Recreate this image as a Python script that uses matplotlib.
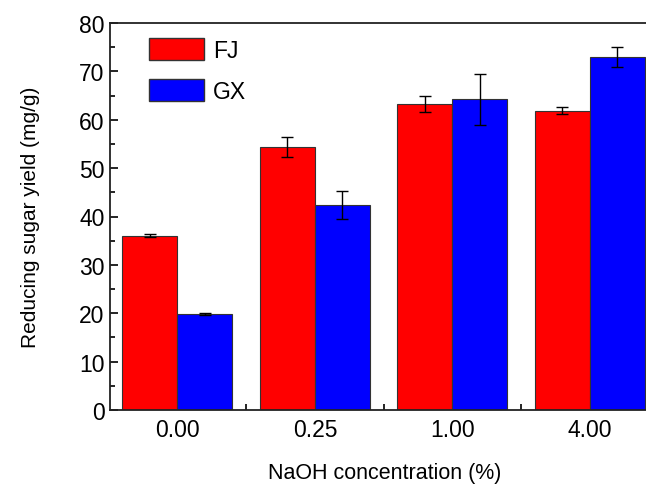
import matplotlib.pyplot as plt
import numpy as np
from matplotlib.patches import Patch

plt.rcParams['font.family'] = ['Liberation Sans', 'DejaVu Sans']

concentrations = ['0.00', '0.25', '1.00', '4.00']
fj_yield = [36.0, 54.3, 63.3, 61.9]
fj_err = [0.3, 2.1, 1.6, 0.8]
gx_yield = [19.9, 42.4, 64.2, 73.0]
gx_err = [0.2, 2.9, 5.3, 2.1]

fig = plt.figure(figsize=(6.46, 4.85), dpi=100)
ax = fig.add_axes([110 / 646, 74 / 485, 550 / 646, 387 / 485])

x = np.arange(len(concentrations))
w = 0.4
ax.bar(x - w / 2, fj_yield, width=w, color='#ff0000', edgecolor='#333333',
       linewidth=0.8, yerr=fj_err, capsize=4,
       error_kw=dict(elinewidth=1, capthick=1, ecolor='black'))
ax.bar(x + w / 2, gx_yield, width=w, color='#0000ff', edgecolor='#333333',
       linewidth=0.8, yerr=gx_err, capsize=4,
       error_kw=dict(elinewidth=1, capthick=1, ecolor='black'))

ax.set_xlim(-0.49, 3.51)
ax.set_ylim(0, 80)
ax.set_yticks(np.arange(0, 81, 10))
ax.set_yticks(np.arange(5, 80, 10), minor=True)
ax.set_xticks(x)
ax.set_xticklabels(concentrations)
ax.set_xticks([0.5, 1.5, 2.5], minor=True)

ax.tick_params(axis='y', which='major', direction='in', length=6, width=1.2,
               labelsize=16.5, pad=4)
ax.tick_params(axis='y', which='minor', direction='in', length=3.5, width=1.2)
ax.tick_params(axis='x', which='major', length=0, labelsize=16.5, pad=6)
ax.tick_params(axis='x', which='minor', direction='in', length=4, width=1.2)

for s in ax.spines.values():
    s.set_linewidth(1.3)
    s.set_color('#222222')

ax.set_ylabel('Reducing sugar yield (mg/g)', fontsize=15, labelpad=28)
ax.set_xlabel('NaOH concentration (%)', fontsize=15.5, labelpad=15)

handles = [Patch(facecolor='#ff0000', edgecolor='#333333', label='FJ'),
           Patch(facecolor='#0000ff', edgecolor='#333333', label='GX')]
ax.legend(handles=handles, loc='upper left', bbox_to_anchor=(0.033, 1.015),
          frameon=False, fontsize=16.5, handlelength=2.4, handleheight=1.1,
          labelspacing=0.75, handletextpad=0.4)

fig.savefig('out.png', dpi=100)
